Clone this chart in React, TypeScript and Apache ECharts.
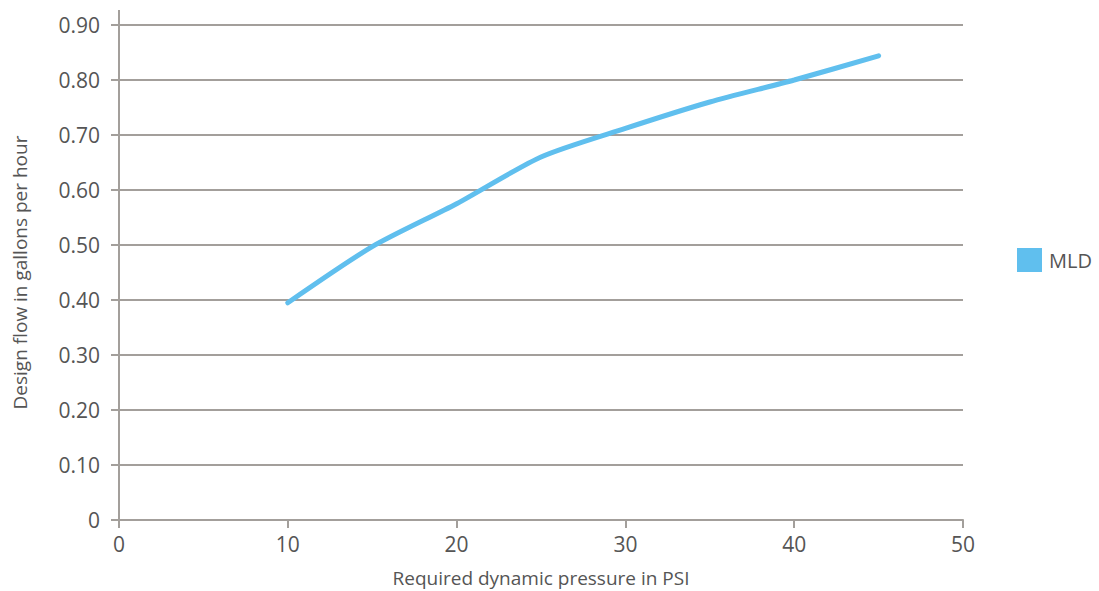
import React, { useEffect, useRef } from "react";
import * as echarts from "echarts";

const pressure = [10, 15, 20, 25, 30, 35, 40, 45];
const flowMLD = [0.395, 0.497, 0.575, 0.66, 0.712, 0.76, 0.8, 0.844];
const yTicks = ["0", "0.10", "0.20", "0.30", "0.40", "0.50", "0.60", "0.70", "0.80", "0.90"];

const AXIS = "#a39f9b";
const TEXT = "#555555";
const FONT = "Open Sans";

export default function App() {
  const ref = useRef<HTMLDivElement>(null);
  useEffect(() => {
    const chart = echarts.init(ref.current!, null, { renderer: "svg" });
    chart.setOption({
      animation: false,
      backgroundColor: "#ffffff",
      textStyle: { fontFamily: FONT },
      grid: { left: 119, right: 136, top: 25, bottom: 71, containLabel: false, outerBoundsMode: "none" },
      legend: {
        orient: "vertical",
        left: 1012,
        top: 243,
        itemWidth: 25,
        itemHeight: 24,
        itemGap: 10,
        icon: "rect",
        textStyle: { fontSize: 20, color: TEXT, fontFamily: FONT, padding: [0, 0, 0, 2] },
        data: ["MLD"],
      },
      xAxis: {
        type: "value",
        min: 0,
        max: 50,
        interval: 10,
        name: "Required dynamic pressure in PSI",
        nameLocation: "middle",
        nameGap: 48,
        nameTextStyle: { fontSize: 19, color: TEXT, fontFamily: FONT },
        axisLine: { show: true, lineStyle: { color: AXIS, width: 2 } },
        axisTick: { show: true, length: 8, lineStyle: { color: AXIS, width: 2 } },
        axisLabel: { fontSize: 21, color: TEXT, margin: 13, fontFamily: FONT },
        splitLine: { show: false },
      },
      yAxis: {
        type: "value",
        min: 0,
        max: 0.9,
        interval: 0.1,
        name: "Design flow in gallons per hour",
        nameLocation: "middle",
        nameGap: 90,
        nameTextStyle: { fontSize: 19, color: TEXT, fontFamily: FONT },
        axisLine: { show: true, lineStyle: { color: AXIS, width: 2 } },
        axisTick: { show: true, length: 8, lineStyle: { color: AXIS, width: 2 } },
        axisLabel: {
          fontSize: 21,
          color: TEXT,
          margin: 19,
          fontFamily: FONT,
          formatter: (v: number) => yTicks[Math.round(v * 10)] ?? String(v),
        },
        splitLine: { show: true, lineStyle: { color: AXIS, width: 2 } },
      },
      graphic: [
        {
          type: "line",
          shape: { x1: 119, y1: 10, x2: 119, y2: 25 },
          style: { stroke: AXIS, lineWidth: 2 },
        },
      ],
      series: [
        {
          name: "MLD",
          type: "line",
          smooth: 0.25,
          showSymbol: false,
          symbol: "none",
          data: pressure.map((p, i) => [p, flowMLD[i]]),
          lineStyle: { color: "#60bfee", width: 5, cap: "round" },
          itemStyle: { color: "#60bfee" },
        },
      ],
    });
    return () => chart.dispose();
  }, []);
  return <div ref={ref} style={{ width: 1099, height: 591, position: "absolute", left: 0, top: 0 }} />;
}
